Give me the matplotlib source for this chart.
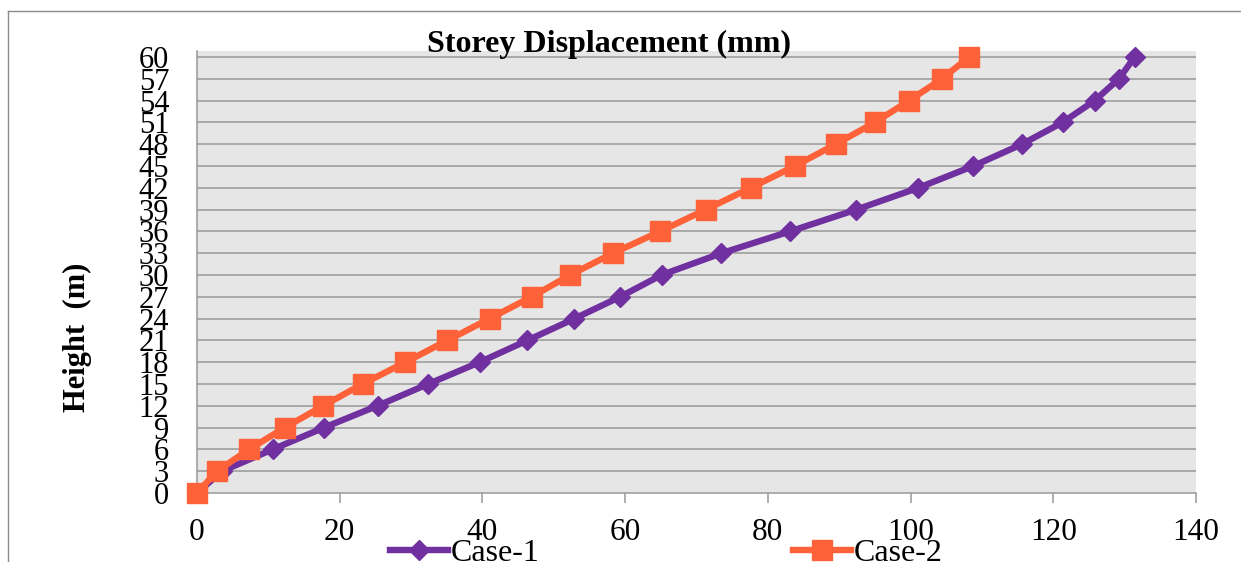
import matplotlib
matplotlib.use("Agg")
import matplotlib.pyplot as plt
from matplotlib.lines import Line2D

plt.rcParams['font.family'] = ['Liberation Serif', 'DejaVu Serif']

# ---- data ----
height_m = [0, 3, 6, 9, 12, 15, 18, 21, 24, 27, 30, 33, 36, 39, 42, 45, 48, 51, 54, 57, 60]
case1_disp = [0, 3.5, 10.6, 17.8, 25.3, 32.4, 39.6, 46.3, 52.9, 59.3, 65.1, 73.5,
              83.1, 92.4, 101.1, 108.8, 115.6, 121.3, 125.8, 129.2, 131.4]
case2_disp = [0, 2.8, 7.3, 12.3, 17.7, 23.2, 29.2, 35.1, 41.0, 46.9, 52.3, 58.3,
              64.9, 71.3, 77.6, 83.8, 89.5, 95.0, 99.8, 104.4, 108.2]
x_ticks = [0, 20, 40, 60, 80, 100, 120, 140]
series_names = ['Case-1', 'Case-2']
title_text = 'Storey Displacement (mm)'
ylabel_text = 'Height  (m)'

W, H = 1241, 562
fig = plt.figure(figsize=(W / 100, H / 100), dpi=100)
fig.patch.set_facecolor('white')

ax = fig.add_axes([197 / W, 1 - 493 / H, (1196 - 197) / W, (493 - 51) / H])
ax.set_facecolor('#E6E6E6')

purple = '#7030A0'
orange = '#FF6139'
grid_c = '#999999'

ax.plot(case1_disp, height_m, color=purple, lw=4.6, marker='D', ms=9.8,
        mec=purple, mfc=purple, clip_on=False, zorder=3, label=series_names[0])
ax.plot(case2_disp, height_m, color=orange, lw=4.6, marker='s', ms=14,
        mec=orange, mfc=orange, clip_on=False, zorder=4, label=series_names[1])

ax.set_xlim(0, 140)
ax.set_ylim(0, 60 + 6 / 7.267)
ax.set_xticks(x_ticks)
ax.set_xticklabels([str(v) for v in x_ticks])
ax.set_yticks(height_m)
ax.set_yticklabels([str(v) for v in height_m])

for y in height_m[1:]:
    ax.axhline(y, color=grid_c, lw=1.1, zorder=1)

for s in ['top', 'right']:
    ax.spines[s].set_visible(False)
for s in ['left', 'bottom']:
    ax.spines[s].set_color(grid_c)
    ax.spines[s].set_linewidth(1.1)

ax.tick_params(axis='x', direction='out', length=7.2, width=1.1, color=grid_c,
               labelsize=22.5, pad=10.5, labelcolor='black')
ax.tick_params(axis='y', length=0, labelsize=22, pad=20, labelcolor='black')

# title and y label
fig.text(609 / W, 1 - 44 / H, title_text, ha='center', va='center',
         fontsize=23, fontweight='bold', zorder=10)
fig.text(77 / W, 1 - 337 / H, ylabel_text, ha='center', va='center',
         rotation=90, fontsize=22, fontweight='bold')

# legend
handles = [Line2D([], [], color=purple, lw=4.6, marker='D', ms=9.8, mec=purple, mfc=purple),
           Line2D([], [], color=orange, lw=4.6, marker='s', ms=14, mec=orange, mfc=orange)]
fig.legend(handles, series_names, loc='center left', bbox_to_anchor=(390 / W, 1 - 553 / H),
           ncol=2, frameon=False, fontsize=23, borderpad=0, borderaxespad=0,
           handlelength=1.8, handletextpad=0.1, columnspacing=7.95)

# outer chart border (partially visible)
fig.add_artist(Line2D([8 / W, 1.0], [1 - 11 / H, 1 - 11 / H], transform=fig.transFigure,
                      color='#8C8C8C', lw=1.0))
fig.add_artist(Line2D([8 / W, 8 / W], [1 - 11 / H, 0.0], transform=fig.transFigure,
                      color='#8C8C8C', lw=1.0))

fig.savefig('out.png', dpi=100)
